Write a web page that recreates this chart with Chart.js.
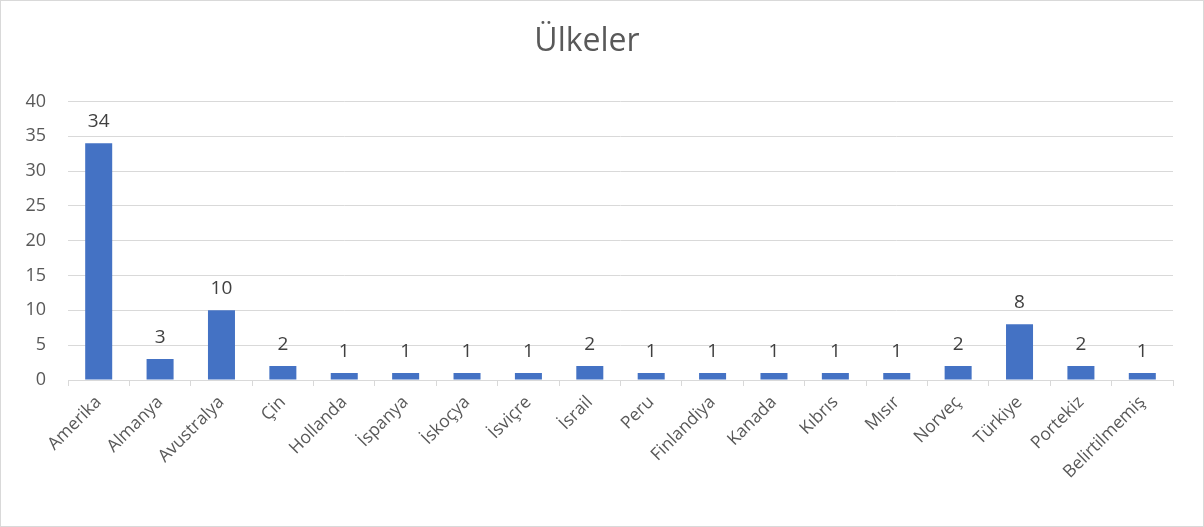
<!DOCTYPE html>
<html>
<head>
<meta charset="utf-8">
<script src="https://cdn.jsdelivr.net/npm/chart.js@4.4.1/dist/chart.umd.min.js"></script>
<style>
  html, body { margin: 0; padding: 0; background: #fff; }
  #wrap { position: relative; width: 1204px; height: 527px; box-sizing: border-box; border: 1px solid #d9d9d9; }
  canvas { display: block; }
</style>
</head>
<body>
<div id="wrap"><canvas id="c" width="1202" height="525"></canvas></div>
<script>
const chartTitle = "Ülkeler";
const categories = ["Amerika", "Almanya", "Avustralya", "Çin", "Hollanda", "İspanya", "İskoçya", "İsviçre", "İsrail", "Peru", "Finlandiya", "Kanada", "Kıbrıs", "Mısır", "Norveç", "Türkiye", "Portekiz", "Belirtilmemiş"];
const values = [34, 3, 10, 2, 1, 1, 1, 1, 2, 1, 1, 1, 1, 1, 2, 8, 2, 1];
const yTicks = [0, 5, 10, 15, 20, 25, 30, 35, 40];

const FONT = "'Open Sans', 'Segoe UI', sans-serif";
const TEXT = "#595959";
const GRID = "#d9d9d9";

const barLabels = {
  id: 'barLabels',
  afterDatasetsDraw(chart) {
    const ctx = chart.ctx;
    const meta = chart.getDatasetMeta(0);
    ctx.save();
    ctx.font = "19px " + FONT;
    ctx.fillStyle = "#404040";
    ctx.textAlign = "center";
    ctx.textBaseline = "bottom";
    meta.data.forEach((bar, i) => {
      ctx.fillText(String(values[i]), bar.x, bar.y - 12);
    });
    ctx.restore();
  }
};

new Chart(document.getElementById('c'), {
  type: 'bar',
  data: {
    labels: categories,
    datasets: [{
      data: values,
      backgroundColor: "#4472c4",
      borderWidth: 0,
      categoryPercentage: 1,
      barPercentage: 0.44
    }]
  },
  options: {
    responsive: false,
    animation: false,
    layout: { padding: { top: 0, right: 30, left: 0, bottom: 0 } },
    plugins: {
      legend: { display: false },
      tooltip: { enabled: false },
      title: {
        display: true,
        text: chartTitle,
        color: TEXT,
        font: { family: FONT, size: 32, weight: 'normal' },
        padding: { top: 22, bottom: 40 }
      }
    },
    scales: {
      x: {
        grid: { offset: true, drawOnChartArea: false, drawTicks: true, tickLength: 6, color: GRID },
        border: { color: GRID, width: 1 },
        ticks: { color: TEXT, font: { family: FONT, size: 17.5 }, minRotation: 45, maxRotation: 45, padding: 6, autoSkip: false },
        afterFit(scale) { scale.height = 146; }
      },
      y: {
        min: 0, max: 40,
        afterBuildTicks(scale) { scale.ticks = yTicks.map(v => ({ value: v })); },
        grid: { color: GRID, drawTicks: false, lineWidth: 1 },
        border: { display: false },
        ticks: { color: TEXT, font: { family: FONT, size: 18 }, padding: 22 },
        afterFit(scale) { scale.width = 67; }
      }
    }
  },
  plugins: [barLabels]
});
</script>
</body>
</html>
